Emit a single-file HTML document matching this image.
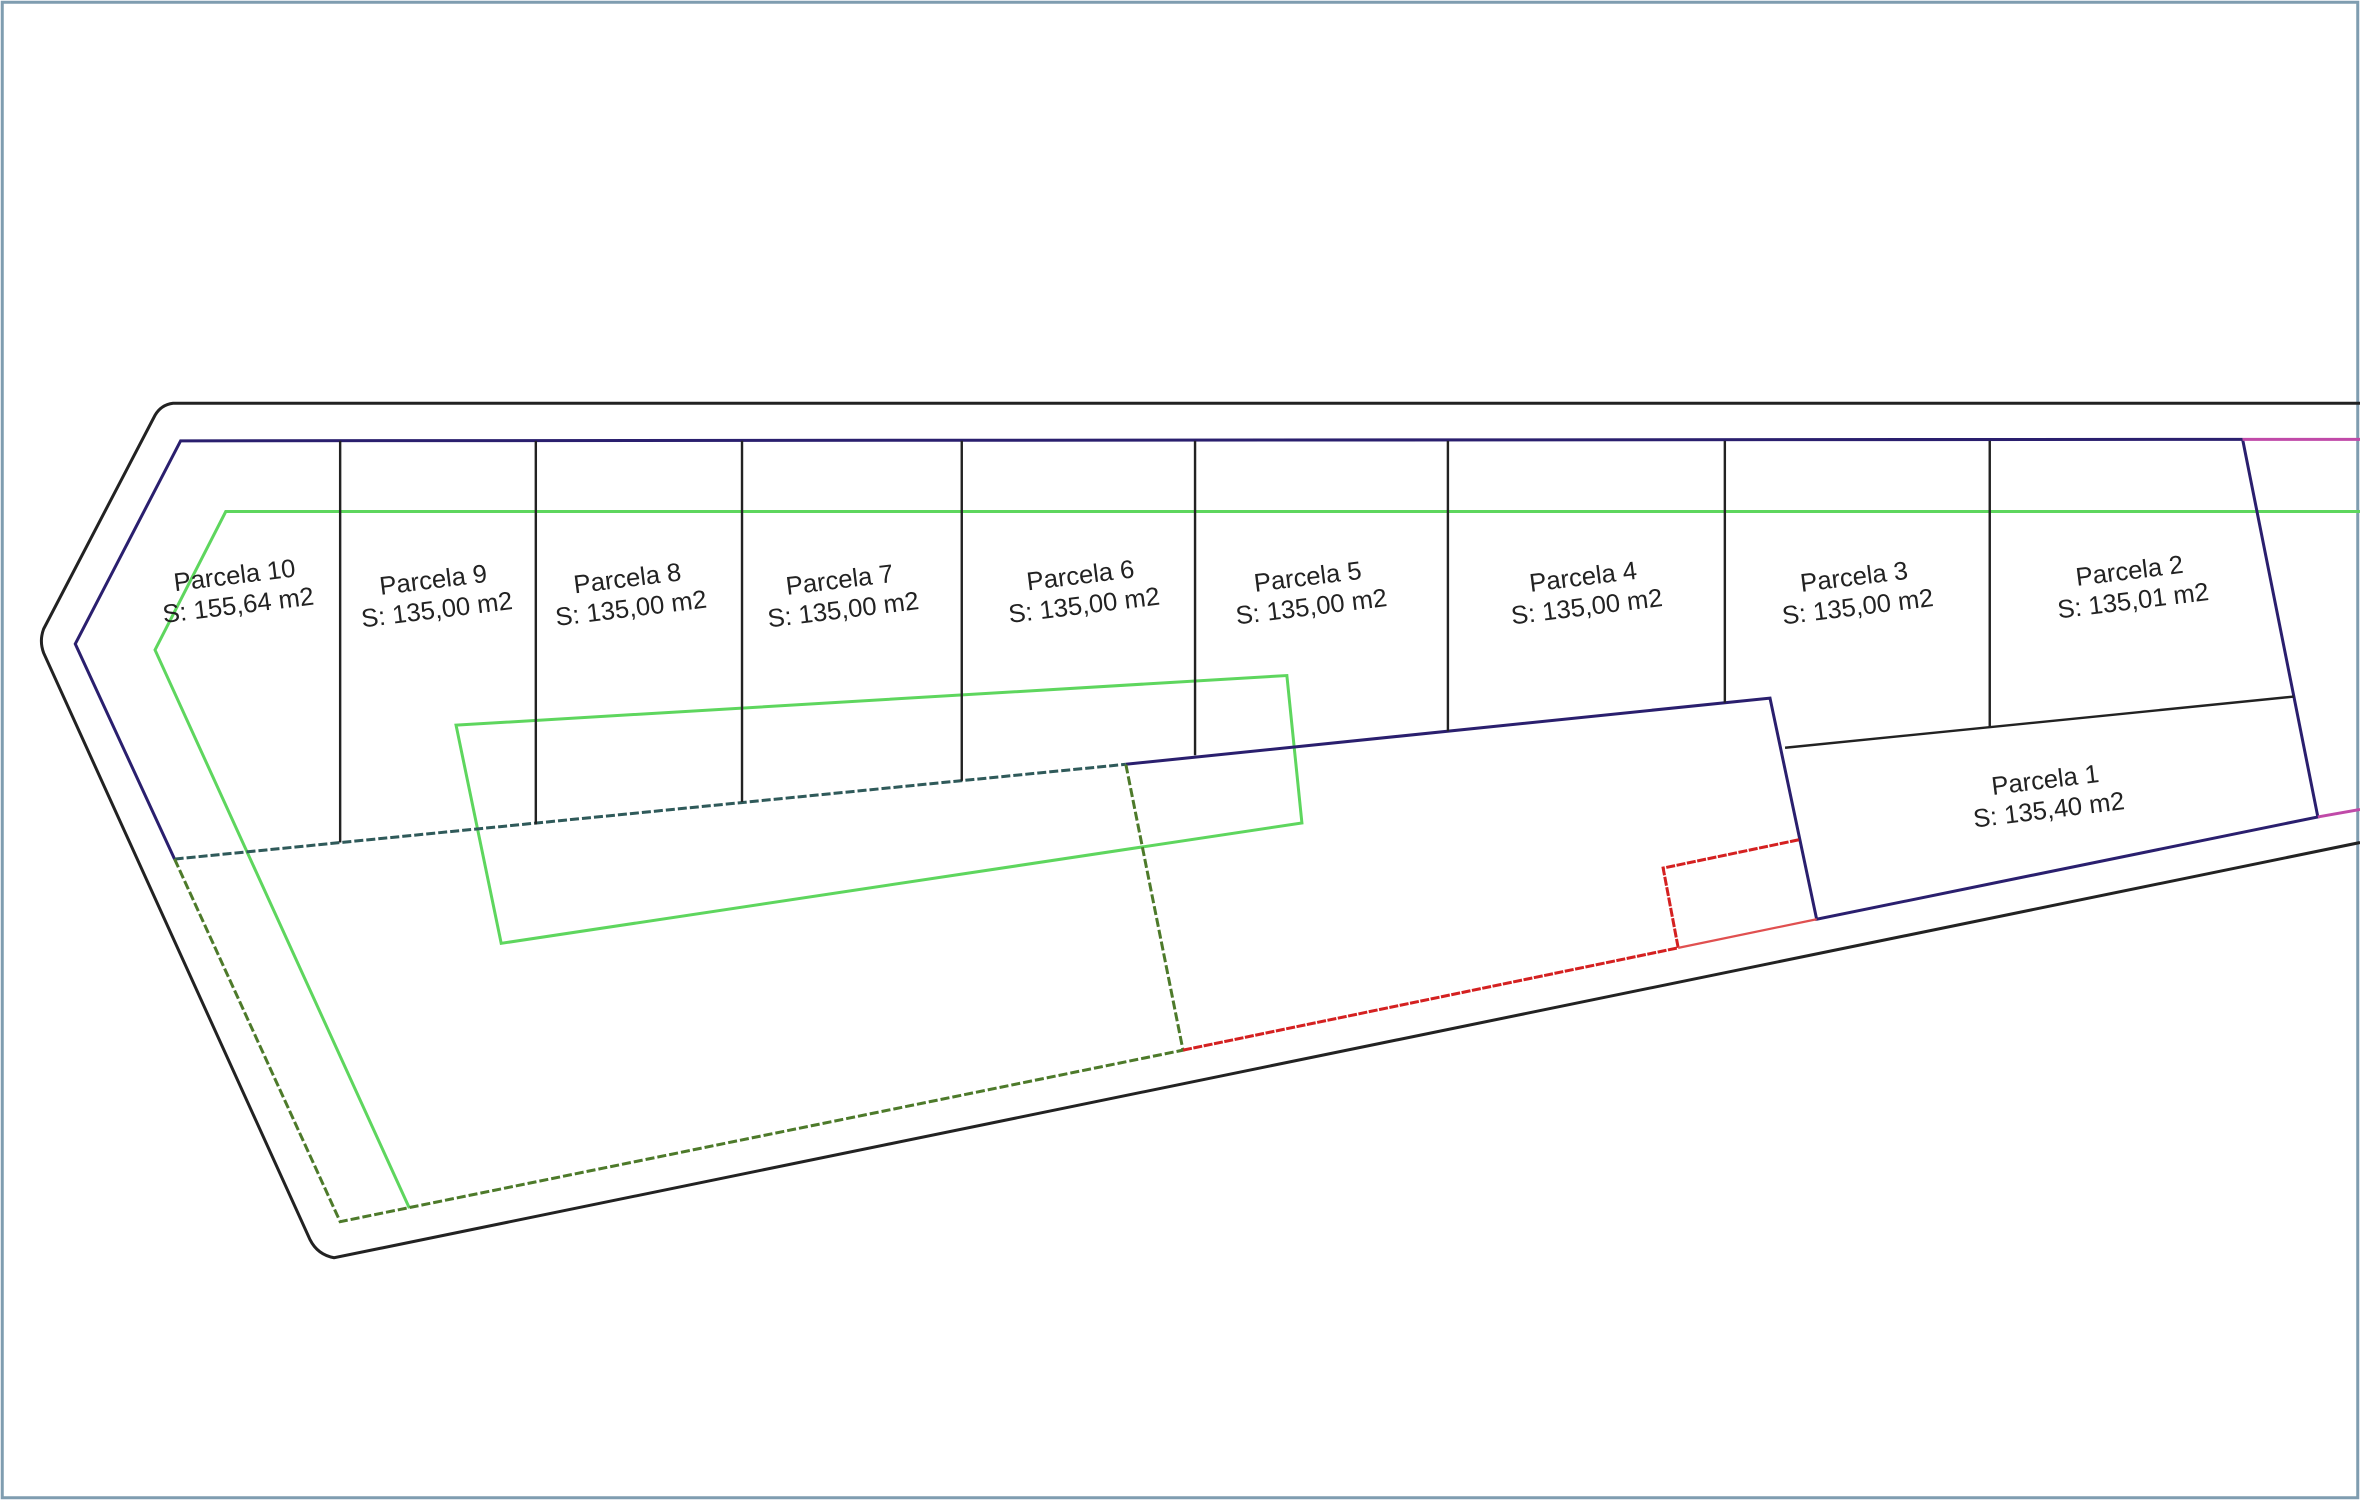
<!DOCTYPE html>
<html><head><meta charset="utf-8"><style>html,body{margin:0;padding:0;background:#fff}svg{display:block}</style></head><body>
<svg width="2360" height="1500" viewBox="0 0 1568 997" preserveAspectRatio="none" xmlns="http://www.w3.org/2000/svg" font-family="Liberation Sans, sans-serif" font-size="17" fill="none">
<rect x="1.5" y="1.5" width="1565" height="994" stroke="#7f9db0" stroke-width="2"/>
<path d="M1568,268 L115,268 Q107,269 103,276 L29,418 Q26,426 29,434 L206,824 Q211,834 222,836 L1568,560" stroke="#222" stroke-width="2"/>
<g stroke="#5ed65e" stroke-width="2">
<path d="M1568,340 L150,340 L103,432 L272,803"/>
<path d="M303,482 L855,449 L865,547 L333,627 Z"/>
</g>
<g stroke="#2a1f6e" stroke-width="2">
<path d="M1490,292 L120,293 L50,428 L116,571"/>
<path d="M1490,292 L1540,543 L1207,611 L1176,464 L748,508"/>
</g>
<path d="M1490,292 L1568,292" stroke="#c04aa8" stroke-width="2"/>
<path d="M1540,543 L1568,538" stroke="#c04aa8" stroke-width="2"/>
<path d="M116,571 L748,508" stroke="#2f5a5a" stroke-width="2" stroke-dasharray="6,2"/>
<path d="M116,571 L226,812 L786,698 L748,508" stroke="#4d7a2a" stroke-width="2" stroke-dasharray="6,2"/>
<path d="M786,698 L1115,630 L1105,577 L1196,558" stroke="#d42020" stroke-width="2" stroke-dasharray="6,1"/>
<path d="M1115,630 L1207,611" stroke="#e05050" stroke-width="1.5"/>
<g stroke="#222" stroke-width="1.6">
<path d="M226,293V560M356,293V548M493,293V533M639,293V519M794,293V502M962,293V486M1146,293V467M1322,293V483"/>
<path d="M1186,497 L1524,463"/>
</g>
<g fill="#222" text-anchor="middle">
<g transform="translate(157,392) rotate(-7)"><text y="-4">Parcela 10</text><text y="16">S: 155,64 m2</text></g>
<g transform="translate(289,395) rotate(-7)"><text y="-4">Parcela 9</text><text y="16">S: 135,00 m2</text></g>
<g transform="translate(418,394) rotate(-7)"><text y="-4">Parcela 8</text><text y="16">S: 135,00 m2</text></g>
<g transform="translate(559,395) rotate(-7)"><text y="-4">Parcela 7</text><text y="16">S: 135,00 m2</text></g>
<g transform="translate(719,392) rotate(-7)"><text y="-4">Parcela 6</text><text y="16">S: 135,00 m2</text></g>
<g transform="translate(870,393) rotate(-7)"><text y="-4">Parcela 5</text><text y="16">S: 135,00 m2</text></g>
<g transform="translate(1053,393) rotate(-7)"><text y="-4">Parcela 4</text><text y="16">S: 135,00 m2</text></g>
<g transform="translate(1233,393) rotate(-7)"><text y="-4">Parcela 3</text><text y="16">S: 135,00 m2</text></g>
<g transform="translate(1416,389) rotate(-7)"><text y="-4">Parcela 2</text><text y="16">S: 135,01 m2</text></g>
<g transform="translate(1360,528) rotate(-7)"><text y="-4">Parcela 1</text><text y="16">S: 135,40 m2</text></g>
</g>
</svg>
</body></html>
